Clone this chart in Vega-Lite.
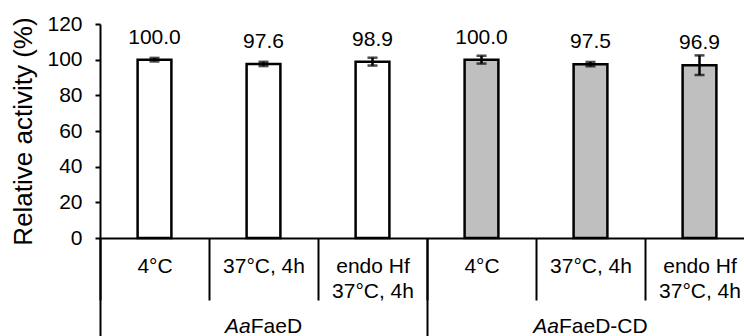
{
  "$schema": "https://vega.github.io/schema/vega-lite/v6.json",
  "width": 654,
  "height": 214,
  "autosize": "none",
  "padding": {"left": 100, "top": 24, "right": 0, "bottom": 98},
  "background": "white",
  "config": {
    "view": {"stroke": null},
    "font": "Liberation Sans",
    "axis": {"labelFont": "Liberation Sans", "titleFont": "Liberation Sans", "labelColor": "black", "titleColor": "black", "domainColor": "black", "tickColor": "black", "grid": false},
    "axisY": {"labelOverlap": false},
    "axisQuantitative": {"labelOverlap": false}
  },
  "data": {
    "values": [
      {"id": "AaFaeD|4°C", "group": "AaFaeD", "condition": "4°C", "value": 100.0, "err": 1.0},
      {"id": "AaFaeD|37°C, 4h", "group": "AaFaeD", "condition": "37°C, 4h", "value": 97.6, "err": 1.2},
      {"id": "AaFaeD|endo Hf\n37°C, 4h", "group": "AaFaeD", "condition": "endo Hf 37°C, 4h", "value": 98.9, "err": 2.2},
      {"id": "AaFaeD-CD|4°C", "group": "AaFaeD-CD", "condition": "4°C", "value": 100.0, "err": 2.2},
      {"id": "AaFaeD-CD|37°C, 4h", "group": "AaFaeD-CD", "condition": "37°C, 4h", "value": 97.5, "err": 1.2},
      {"id": "AaFaeD-CD|endo Hf\n37°C, 4h", "group": "AaFaeD-CD", "condition": "endo Hf 37°C, 4h", "value": 96.9, "err": 5.5}
    ]
  },
  "layer": [
    {
      "mark": {"type": "bar", "width": {"band": 0.31}, "stroke": "black", "strokeWidth": 2.5},
      "encoding": {
        "x": {
          "field": "id", "type": "nominal", "sort": null,
          "scale": {"paddingInner": 0, "paddingOuter": 0},
          "axis": {
            "orient": "bottom", "title": null,
            "labelExpr": "length(split(datum.label + '', '|')) > 1 ? split(split(datum.label, '|')[1], '\\n') : ''",
            "labelAngle": 0, "labelFontSize": 21, "labelLineHeight": 25,
            "labelBaseline": "top", "labelPadding": -45,
            "tickBand": "extent", "tickSize": 62, "tickWidth": 2, "domainWidth": 2
          }
        },
        "y": {
          "field": "value", "type": "quantitative",
          "scale": {"domain": [0, 120], "nice": false},
          "axis": {
            "orient": "left",
            "title": "Relative activity (%)", "values": [0, 20, 40, 60, 80, 100, 120],
            "labelOverlap": false,
            "tickSize": 5, "tickWidth": 2, "domainWidth": 2,
            "labelFontSize": 21, "labelPadding": 13,
            "titleFontSize": 26, "titleFontWeight": "normal", "titlePadding": 10
          }
        },
        "fill": {"field": "group", "type": "nominal", "scale": {"range": ["white", "#bfbfbf"]}, "legend": null}
      }
    },
    {
      "mark": {"type": "errorbar", "thickness": 2.5, "color": "black", "ticks": {"size": 10, "thickness": 2.5, "color": "black"}},
      "encoding": {
        "x": {
          "field": "id", "type": "nominal", "sort": null,
          "axis": {
            "orient": "bottom", "title": null,
            "values": ["AaFaeD|4°C", "AaFaeD-CD|4°C"],
            "bandPosition": 0, "domain": false,
            "tickSize": 98, "tickWidth": 2,
            "labelExpr": "'Aa'", "labelFontStyle": "italic", "labelFontSize": 21,
            "labelAlign": "right", "labelBaseline": "alphabetic", "labelPadding": -4, "labelAngle": 0,
            "labelOffset": {"condition": {"test": "datum.value == 'AaFaeD|4°C'", "value": 96.2}, "value": 77.5}
          }
        },
        "y": {
          "field": "value", "type": "quantitative",
          "axis": {
            "orient": "left",
            "title": "Relative activity (%)", "values": [0, 20, 40, 60, 80, 100, 120],
            "labelOverlap": false,
            "tickSize": 5, "tickWidth": 2, "domainWidth": 2,
            "labelFontSize": 21, "labelPadding": 13,
            "titleFontSize": 26, "titleFontWeight": "normal", "titlePadding": 10
          }
        },
        "yError": {"field": "err"}
      }
    },
    {
      "mark": {"type": "text", "baseline": "alphabetic", "dy": -16, "fontSize": 21, "color": "black"},
      "encoding": {
        "x": {
          "field": "id", "type": "nominal", "sort": null,
          "axis": {
            "orient": "bottom", "title": null,
            "values": ["AaFaeD|37°C, 4h", "AaFaeD-CD|37°C, 4h"],
            "domain": false, "ticks": false,
            "labelExpr": "replace(split(datum.label, '|')[0], 'Aa', '')",
            "labelFontSize": 21, "labelAlign": "left", "labelBaseline": "alphabetic",
            "labelPadding": 94, "labelAngle": 0,
            "labelOffset": {"condition": {"test": "datum.value == 'AaFaeD|37°C, 4h'", "value": -12.8}, "value": -31.5}
          }
        },
        "y": {
          "field": "value", "type": "quantitative",
          "axis": {
            "orient": "left",
            "title": "Relative activity (%)", "values": [0, 20, 40, 60, 80, 100, 120],
            "labelOverlap": false,
            "tickSize": 5, "tickWidth": 2, "domainWidth": 2,
            "labelFontSize": 21, "labelPadding": 13,
            "titleFontSize": 26, "titleFontWeight": "normal", "titlePadding": 10
          }
        },
        "text": {"field": "value", "type": "quantitative", "format": ".1f"}
      }
    }
  ],
  "resolve": {"axis": {"x": "independent"}}
}
